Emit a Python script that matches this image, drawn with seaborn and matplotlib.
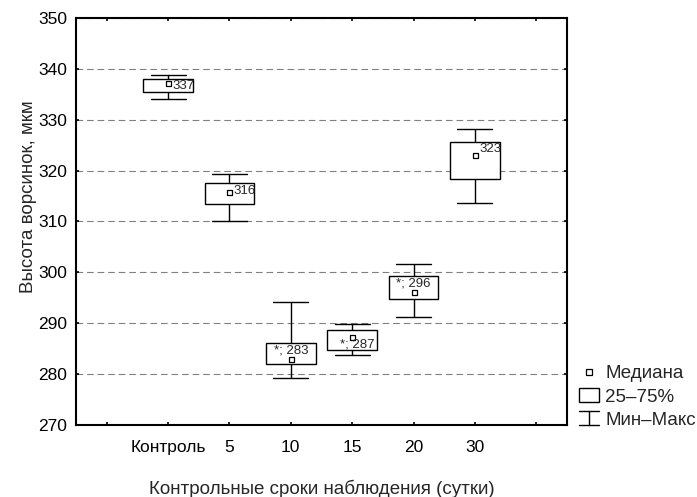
import matplotlib
matplotlib.use("Agg")
import matplotlib.pyplot as plt
import numpy as np
import pandas as pd
import seaborn as sns
from matplotlib.lines import Line2D
from matplotlib.patches import Patch
from matplotlib.legend_handler import HandlerBase

# values
groups = ["Контроль", "5", "10", "15", "20", "30"]
mins = [334.1, 310.0, 279.2, 283.7, 291.3, 313.7]
q1 = [335.4, 313.5, 282.0, 284.8, 294.8, 318.3]
medians = [337.2, 315.8, 282.9, 287.2, 296.2, 323.1]
q3 = [337.9, 317.5, 286.1, 288.7, 299.3, 325.6]
maxs = [338.7, 319.3, 294.1, 289.8, 301.7, 328.2]
point_labels = ["337", "316", "*; 283", "*; 287", "*; 296", "323"]

# empty slots on both sides, like the original
order = [""] + groups + [" "]

# five values per group -> exact min / quartiles / median / max
rows = []
for g, a, b, c, d, e in zip(groups, mins, q1, medians, q3, maxs):
    for v in (a, b, c, d, e):
        rows.append({"group": g, "value": v})
df = pd.DataFrame(rows)


class WhiskerHandler(HandlerBase):
    def create_artists(self, legend, orig_handle, xdescent, ydescent,
                       width, height, fontsize, trans):
        x0, y0 = -xdescent, -ydescent
        cx = x0 + width / 2
        lines = [
            Line2D([x0, x0 + width], [y0 + height, y0 + height]),
            Line2D([cx, cx], [y0, y0 + height]),
            Line2D([x0, x0 + width], [y0, y0]),
        ]
        for ln in lines:
            ln.set_color("black")
            ln.set_linewidth(1.0)
            ln.set_transform(trans)
        return lines


sns.set_style("ticks")
plt.rcParams["font.family"] = ["Liberation Sans", "DejaVu Sans"]

fig = plt.figure(figsize=(6.97, 4.97), dpi=100)
ax = fig.add_axes([0.109, 0.145, 0.7045, 0.819])

sns.boxplot(data=df, x="group", y="value", order=order, whis=(0, 100),
            width=0.81, color="white", linecolor="black", linewidth=1.0,
            capwidths=np.full(len(groups), 0.57),
            medianprops={"visible": False}, showfliers=False, ax=ax)

sns.stripplot(x=groups, y=medians, order=order, jitter=False, marker="s",
              size=3.6, color="white", edgecolor="black", linewidth=0.9,
              ax=ax, zorder=5)

offsets = [(3, -2, "left"), (3, 1, "left"), (0, 6, "center"),
           (4, -5, "center"), (0, 6, "center"), (3, 4.5, "left")]
for i, (lab, m) in enumerate(zip(point_labels, medians)):
    dx, dy, ha = offsets[i]
    ax.annotate(lab, (order.index(groups[i]), m), xytext=(dx, dy),
                textcoords="offset points", ha=ha, va="center",
                fontsize=9.5, zorder=6)

ax.set_xlim(-0.5, 7.5)
ax.set_ylim(270, 350)
ax.set_yticks(np.arange(270, 351, 10))
ax.set_xticks(range(len(order)))
ax.set_xticklabels(order)

ax.set_axisbelow(True)
ax.yaxis.grid(True, color="#808080", linewidth=0.8, linestyle=(0, (6, 3.5)))

for s in ax.spines.values():
    s.set_visible(True)
    s.set_linewidth(1.5)
    s.set_color("black")
ax.tick_params(axis="both", which="both", direction="in", length=2.5,
               width=1.2, top=True, right=True, labelsize=12.5, colors="black")
ax.tick_params(axis="x", pad=11)
ax.tick_params(axis="y", pad=6.5)

ax.set_xlabel("Контрольные сроки наблюдения (сутки)", fontsize=13.5)
ax.set_ylabel("Высота ворсинок, мкм", fontsize=13.5)
ax.xaxis.set_label_coords(0.5, -0.134)
ax.yaxis.set_label_coords(-0.079, 0.56)

handles = [
    Line2D([], [], marker="s", linestyle="none", markerfacecolor="white",
           markeredgecolor="black", markersize=4, markeredgewidth=0.9),
    Patch(facecolor="white", edgecolor="black", linewidth=1),
    object(),
]
fig.legend(handles, ["Медиана", "25–75%", "Мин–Макс"],
           handler_map={object: WhiskerHandler()},
           loc="upper left", bbox_to_anchor=(0.8307, 0.2656),
           frameon=False, fontsize=13.5, borderpad=0, borderaxespad=0,
           handlelength=1.07, handleheight=0.75, handletextpad=0.32,
           labelspacing=0.31)

fig.savefig("out.png", dpi=100)
